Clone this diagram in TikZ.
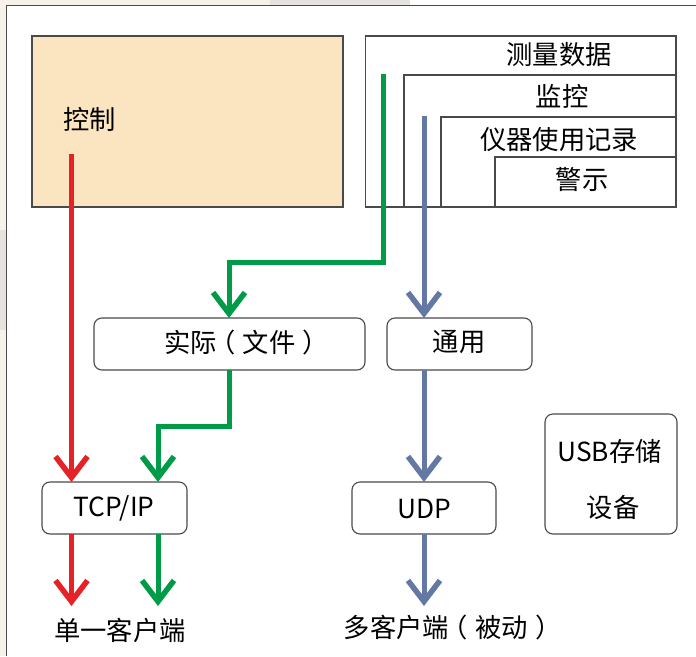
\documentclass[tikz,border=0pt]{standalone}
\usepackage{fontspec}
\setmainfont{Noto Sans CJK SC}
\newcommand{\lpar}{\makebox[1em][l]{\hspace{-0.27em}（}}
\newcommand{\rpar}{\makebox[1em][l]{\hspace{0.27em}）}}
\usetikzlibrary{arrows.meta}
\definecolor{ctlfill}{HTML}{FBE4C0}
\definecolor{redline}{HTML}{E52228}
\definecolor{greenline}{HTML}{009B48}
\definecolor{blueline}{HTML}{6478A4}
\definecolor{edgegray}{HTML}{4A4A4A}
\definecolor{bgstrip}{HTML}{F6F2EA}
\definecolor{bgstripb}{HTML}{E6E2DE}
\tikzset{
  x=1pt,y=-1pt,
  box/.style={draw=edgegray,line width=1.1pt,fill=white,inner sep=0pt,outer sep=0pt},
  ctlbox/.style={box,fill=ctlfill},
  roundbox/.style={box,rounded corners=8pt},
  txt/.style={font=\fontsize{26.3}{30}\selectfont,inner sep=0pt,text=black},
  flow/.style={line width=5pt,-{Straight Barb[length=21pt,width=32pt,line width=5.5pt]}},
}
\begin{document}
\begin{tikzpicture}
\useasboundingbox (0,0) rectangle (696,656);
% faint backdrop around the frame
\fill[white] (0,0) rectangle (696,656);
\fill[bgstrip] (0,0) rectangle (6,656);
\fill[bgstrip] (0,0) rectangle (410,5);
\fill[bgstripb] (0,230) rectangle (6,330);
\fill[bgstripb] (270,0) rectangle (410,5);
% frame
\draw[edgegray,line width=1.2pt] (6.5,656) -- (6.5,5.5) -- (696,5.5);

% top boxes
\node[ctlbox,minimum width=311pt,minimum height=171pt] (ctl) at (187.5,121.5) {};
\node[box,minimum width=310.5pt,minimum height=171pt] (meas) at (520.75,121.5) {};
\node[box,minimum width=272pt,minimum height=132pt] (mon) at (540,141) {};
\node[box,minimum width=235pt,minimum height=90pt] (log) at (558.5,162) {};
\node[box,minimum width=181pt,minimum height=50pt] (warn) at (585.5,182) {};

% middle and bottom boxes
\node[roundbox,minimum width=271pt,minimum height=52pt] (file) at (229.5,344) {};
\node[roundbox,minimum width=145pt,minimum height=52pt] (gen) at (459.5,344) {};
\node[roundbox,minimum width=145pt,minimum height=52pt] (tcp) at (114.5,508) {};
\node[roundbox,minimum width=144pt,minimum height=52pt] (udp) at (424,508) {};
\node[roundbox,minimum width=132pt,minimum height=120pt] (usb) at (611,474) {};

% labels
\node[txt] (tctl) at (89.5,119.5) {控制};
\node[txt] (tmeas) at (559,55) {测量数据};
\node[txt] (tmon) at (562,96) {监控};
\node[txt] (tlog) at (559,139.5) {仪器使用记录};
\node[txt] (twarn) at (582,179.5) {警示};
\node[txt] (tfile) at (243,343) {实际\lpar 文件\rpar};
\node[txt] (tgen) at (459,342.5) {通用};
\node[txt] (ttcp) at (114,508) {TCP/IP};
\node[txt] (tudp) at (424,509) {UDP};
\node[txt] (tusb) at (609.5,451.5) {USB存储};
\node[txt] (tdev) at (613,507) {设备};
\node[txt] (tsingle) at (120,630) {单一客户端};
\node[txt] (tmulti) at (449,627) {多客户端\lpar 被动\rpar};

% connector ends
\coordinate (redstart) at (71.5,154);
\coordinate (greenstart) at (383.5,74);
\coordinate (bluestart) at (424,116);
\coordinate (redend) at (71.5,606);
\coordinate (greenend) at (158,606);
\coordinate (blueend) at (424,606);
\coordinate (filein) at (229,318);
\coordinate (fileout) at (229.5,370);
\coordinate (tcpin) at (158,482);
\coordinate (tcpout) at (158,534);
\coordinate (tcpoutr) at (71.5,534);

% connectors
\draw[flow,redline] (redstart) -- (redstart |- tcp.north);
\draw[flow,redline] (tcpoutr) -- (redend);
\draw[flow,greenline] (greenstart) |- (229,262) -- (filein);
\draw[flow,greenline] (fileout) |- (158,426) -- (tcpin);
\draw[flow,greenline] (tcpout) -- (greenend);
\draw[flow,blueline] (bluestart) -- (bluestart |- gen.north);
\draw[flow,blueline] (gen.south -| bluestart) -- (udp.north);
\draw[flow,blueline] (udp.south) -- (blueend);
\end{tikzpicture}
\end{document}
